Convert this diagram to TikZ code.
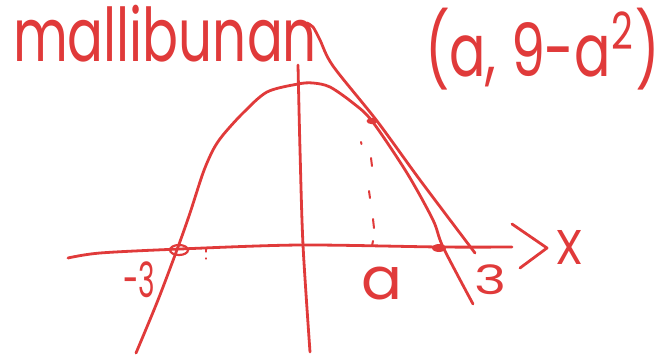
\documentclass[tikz,border=0pt]{standalone}
\usepackage{fontspec}
\setmainfont{Poppins}
\definecolor{ink}{RGB}{224,58,58}
\begin{document}
\begin{tikzpicture}[x=1pt,y=-1pt,
  pen/.style={draw=ink, line width=2.8pt, line cap=round, line join=round},
  thinpen/.style={draw=ink, line width=2pt, line cap=round},
  hand/.style={text=ink, inner sep=0pt, outer sep=0pt}]
\useasboundingbox (0,0) rectangle (663,362);
% axes
\draw[pen] plot[smooth] coordinates {(68,258) (100,253) (180,249) (300,245) (440,247) (512,247)};
\coordinate (tipA) at (512,224);
\coordinate (tipB) at (547,248);
\coordinate (tipC) at (520,268);
\draw[pen] (tipA) -- (tipB) -- (tipC);
\draw[pen] plot[smooth] coordinates {(298,65) (300,150) (303,245) (310,352)};
% parabola
\draw[pen] plot[smooth] coordinates {(136,353) (158,300) (178,247) (190,213) (203,173) (213,150) (223,135) (243,113) (267,92) (298,84) (313,83) (330,87) (353,103) (372,121) (407,173) (433,220) (443,247) (473,304)};
% tangent line
\draw[pen] plot[smooth] coordinates {(307,23) (313,27) (320,40) (333,66) (377,121) (420,180) (475,253)};
% points
\fill[ink] (372,121) ellipse [x radius=5.5, y radius=3.2];
\fill[ink] (439,248) ellipse [x radius=7, y radius=4];
\draw[ink, line width=2.2pt] (179,250) ellipse [x radius=9, y radius=5];
% dotted drop line
\draw[thinpen] (361,142) -- (361.5,144);
\draw[thinpen] (371,158) -- (372,166);
\draw[thinpen] (369,191) -- (370,198);
\draw[thinpen] (373,219) -- (374,228);
\draw[thinpen] (373,241) -- (372,246);
% tiny marks
\draw[ink, line width=1.3pt, line cap=round] (206,248) -- (206,252);
\draw[ink, line width=1.3pt, line cap=round] (206,258) -- (206,259);
% texts
\node[hand, anchor=north west] (word) at (13,5) {\resizebox*{304pt}{57pt}{mallibunan}};
\node[hand, anchor=north west] (pt) at (425,8) {\resizebox*{235pt}{82pt}{(a, 9-a\textsuperscript{2})}};
\node[hand] (m3) at (139,280) {\resizebox*{32pt}{36pt}{-3}};
\node[hand] (la) at (382,284) {\resizebox*{41pt}{33pt}{a}};
\node[hand] (l3) at (491,280) {\resizebox*{32pt}{30pt}{3}};
\node[hand] (lx) at (569,247) {\resizebox*{28pt}{34pt}{X}};
\end{tikzpicture}
\end{document}
